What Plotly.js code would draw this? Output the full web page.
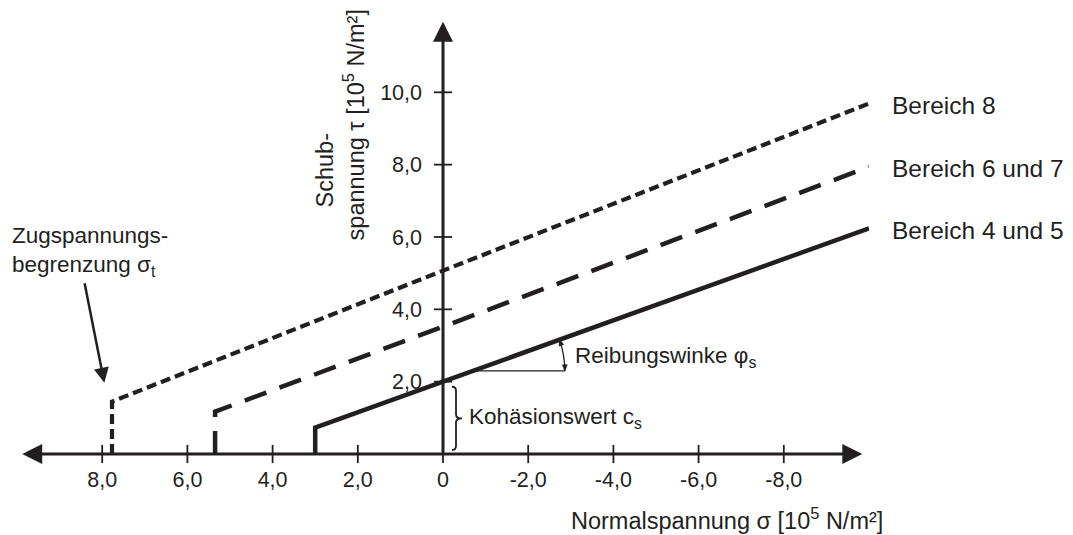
<!DOCTYPE html>
<html><head><meta charset="utf-8">
<script src="https://cdn.plot.ly/plotly-3.0.1.min.js"></script>
<style>html,body{margin:0;padding:0;background:#fff}</style>
</head><body><div id="chart" style="width:1073px;height:535px"></div>
<script>
// ---- data ----
const seriesNames = ['Bereich 8', 'Bereich 6 und 7', 'Bereich 4 und 5'];
const sigmaB8 = [7.77, 7.77, 0, -10];
const tauB8 = [0, 1.45, 5.07, 9.69];
const sigmaB67 = [5.35, 5.35, 0, -10];
const tauB67 = [0, 1.17, 3.52, 7.94];
const sigmaB45 = [3.0, 3.0, 0, -10];
const tauB45 = [0, 0.73, 2.0, 6.24];
const xTickVals = [8, 6, 4, 2, 0, -2, -4, -6, -8];
const xTickText = ['8,0', '6,0', '4,0', '2,0', '0', '-2,0', '-4,0', '-6,0', '-8,0'];
const yTickVals = [2, 4, 6, 8, 10];
const yTickText = ['2,0', '4,0', '6,0', '8,0', '10,0'];
const cohesion = 2.0;

const INK = '#231f20';
const FONT = 'Liberation Sans, Arial, Helvetica, sans-serif';
const X_RANGE = [10, -10];
const Y_RANGE = [0, 12.11];

const traces = [
  {x: sigmaB8, y: tauB8, name: seriesNames[0], mode: 'lines',
   line: {color: INK, width: 4.2, dash: '10px,5px'}},
  {x: sigmaB67, y: tauB67, name: seriesNames[1], mode: 'lines',
   line: {color: INK, width: 4.5, dash: '23px,14px'}},
  {x: sigmaB45, y: tauB45, name: seriesNames[2], mode: 'lines',
   line: {color: INK, width: 4.5}},
  // tick marks crossing the axes
  {x: xTickVals, y: xTickVals.map(() => 0), mode: 'markers', cliponaxis: false,
   marker: {symbol: 'line-ns', size: 13, line: {color: INK, width: 1.8}}},
  {x: yTickVals.map(() => 0), y: yTickVals, mode: 'markers', cliponaxis: false,
   marker: {symbol: 'line-ew', size: 13, line: {color: INK, width: 1.8}}}
];

const ends = [tauB8[3], tauB67[3], tauB45[3]];
const annotations = [
  // axes with arrowheads
  {x: 9.878, y: 0, ax: -9.878, ay: 0, xref: 'x', yref: 'y', axref: 'x', ayref: 'y',
   text: '', showarrow: true, arrowside: 'end+start', arrowhead: 2, startarrowhead: 2,
   arrowwidth: 3, arrowsize: 1.333, startarrowsize: 1.333, arrowcolor: INK},
  {x: 0, y: 11.95, ax: 0, ay: 0, xref: 'x', yref: 'y', axref: 'x', ayref: 'y',
   text: '', showarrow: true, arrowhead: 2, arrowwidth: 3, arrowsize: 1.333, arrowcolor: INK},
  // Zugspannungsbegrenzung arrow
  {x: 7.95, y: 1.97, ax: 8.42, ay: 4.76, xref: 'x', yref: 'y', axref: 'x', ayref: 'y',
   text: '', showarrow: true, arrowhead: 2, arrowwidth: 2.5, arrowsize: 1.2, arrowcolor: INK}
];
seriesNames.forEach((n, i) => annotations.push({
  x: -10, y: ends[i], xref: 'x', yref: 'y', xanchor: 'left', yanchor: 'middle',
  xshift: 21, yshift: -2, showarrow: false, text: n,
  font: {family: FONT, size: 24.5, color: INK}
}));
annotations.push(
  {x: -0.0082, y: 0.462, xref: 'paper', yref: 'paper', xanchor: 'left', yanchor: 'middle', align: 'left',
   showarrow: false, text: 'Zugspannungs-<br>begrenzung σ<sub>t</sub>',
   font: {family: FONT, size: 22.5, color: INK}},
  {x: -0.56, y: 1.0, xref: 'x', yref: 'y', xanchor: 'left', yanchor: 'middle',
   showarrow: false, text: 'Kohäsionswert c<sub>s</sub>',
   font: {family: FONT, size: 22.5, color: INK}},
  {x: -3.05, y: 2.69, xref: 'x', yref: 'y', xanchor: 'left', yanchor: 'middle',
   showarrow: false, text: 'Reibungswinke φ<sub>s</sub>',
   font: {family: FONT, size: 22.5, color: INK}},
  {x: 0.648, y: -0.149, xref: 'paper', yref: 'paper', xanchor: 'left', yanchor: 'middle',
   showarrow: false, text: 'Normalspannung σ [10<sup>5</sup> N/m²]',
   font: {family: FONT, size: 23.5, color: INK}},
  {x: 2.10, y: 9.10, xref: 'x', yref: 'y', xanchor: 'center', yanchor: 'middle', textangle: -90,
   showarrow: false, text: 'spannung τ [10<sup>5</sup> N/m²]',
   font: {family: FONT, size: 23.5, color: INK}},
  {x: 2.76, y: 7.85, xref: 'x', yref: 'y', xanchor: 'center', yanchor: 'middle', textangle: -90,
   showarrow: false, text: 'Schub-',
   font: {family: FONT, size: 23.5, color: INK}}
);

// brace for cohesion, angle marker for friction angle
const bTop = cohesion - 0.14, bBot = 0.11, bMid = (bTop + bBot) / 2, r = 0.11;
const bracePath = `M 9,${bTop} Q 13,${bTop} 13,${bTop - r} L 13,${bMid + r} Q 13,${bMid} 19,${bMid} ` +
  `Q 13,${bMid} 13,${bMid - r} L 13,${bBot + r} Q 13,${bBot} 9,${bBot}`;
const phiX = -0.7, phiY = 2.30;
const shapes = [
  {type: 'path', xref: 'x', yref: 'y', xsizemode: 'pixel', xanchor: 0, path: bracePath,
   line: {color: INK, width: 1.8}},
  {type: 'line', xref: 'x', yref: 'y', xsizemode: 'pixel', xanchor: phiX, x0: 0, x1: 92,
   y0: phiY, y1: phiY, line: {color: INK, width: 1.3}},
  {type: 'path', xref: 'x', yref: 'y', xsizemode: 'pixel', ysizemode: 'pixel',
   xanchor: phiX, yanchor: phiY, path: 'M 86.6,31.1 Q 92,16 92,0', line: {color: INK, width: 1.3}},
  {type: 'path', xref: 'x', yref: 'y', xsizemode: 'pixel', ysizemode: 'pixel',
   xanchor: phiX, yanchor: phiY, path: 'M 92,-0.5 L 89.5,6 L 94.5,6 Z',
   fillcolor: INK, line: {color: INK, width: 0.5}},
  {type: 'path', xref: 'x', yref: 'y', xsizemode: 'pixel', ysizemode: 'pixel',
   xanchor: phiX, yanchor: phiY, path: 'M 86.4,31.6 L 91,26.3 L 86.3,24.6 Z',
   fillcolor: INK, line: {color: INK, width: 0.5}}
];

const layout = {
  width: 1073, height: 535,
  margin: {l: 17, r: 204, t: 16, b: 81, pad: 0},
  paper_bgcolor: '#fff', plot_bgcolor: '#fff',
  showlegend: false,
  font: {family: FONT, color: INK},
  xaxis: {range: X_RANGE, showgrid: false, zeroline: false, showline: false, ticks: '',
    tickvals: xTickVals, ticktext: xTickText, ticklabelstandoff: 10,
    tickfont: {family: FONT, size: 21.5, color: INK}, fixedrange: true},
  yaxis: {range: Y_RANGE, showgrid: false, zeroline: false, showline: false, ticks: '',
    anchor: 'free', position: 0.5,
    tickvals: yTickVals, ticktext: yTickText, ticklabelstandoff: 21,
    tickfont: {family: FONT, size: 21.5, color: INK}, fixedrange: true},
  annotations: annotations,
  shapes: shapes
};
Plotly.newPlot('chart', traces, layout, {displayModeBar: false, staticPlot: true});
</script></body></html>
